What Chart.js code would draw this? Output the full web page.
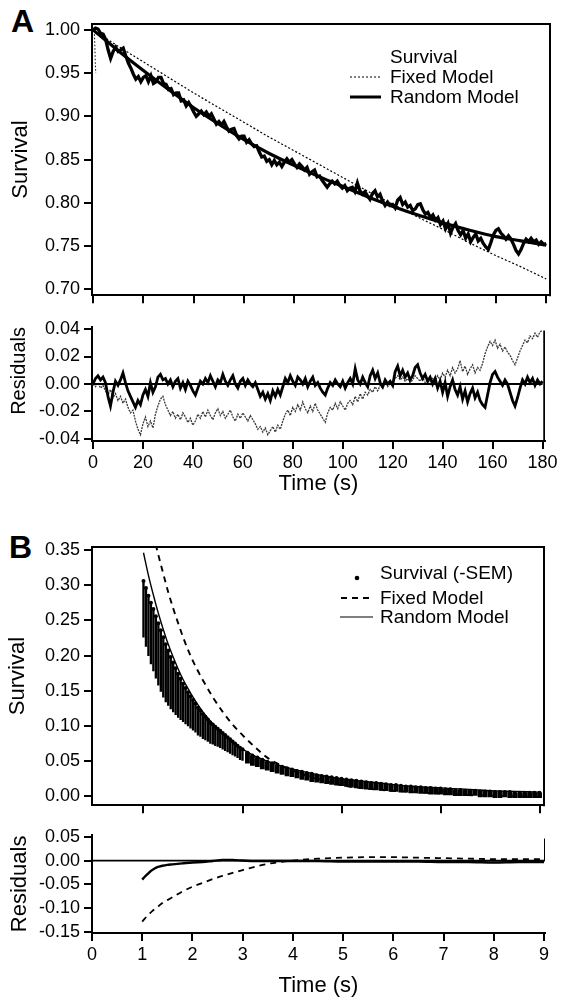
<!DOCTYPE html>
<html><head><meta charset="utf-8">
<script src="https://cdn.jsdelivr.net/npm/chart.js@4.4.1/dist/chart.umd.min.js"></script>
<style>
html,body{margin:0;padding:0;background:#fff;}
body{width:562px;height:1000px;position:relative;overflow:hidden;font-family:'Liberation Sans',Arial,Helvetica,sans-serif;color:#000;}
canvas{position:absolute;left:0;}
.lbl{position:absolute;font-weight:bold;font-size:32px;line-height:32px;}
.lt{position:absolute;font-size:19px;line-height:20px;white-space:nowrap;}
.key{position:absolute;}
</style></head><body>
<div class="lbl" style="left:11px;top:5px">A</div>
<div class="lbl" style="left:9px;top:531px">B</div>

<canvas id="cA" width="562" height="310" style="top:0px"></canvas>
<canvas id="cAR" width="562" height="190" style="top:310px"></canvas>
<canvas id="cB" width="562" height="320" style="top:500px"></canvas>
<canvas id="cBR" width="562" height="180" style="top:820px"></canvas>

<!-- legend A -->
<div class="lt" style="left:390px;top:47px">Survival</div>
<svg class="key" style="left:350px;top:72px" width="32" height="10"><line x1="0" y1="5" x2="31" y2="5" stroke="#000" stroke-width="1.2" stroke-dasharray="2,2"/></svg>
<div class="lt" style="left:390px;top:67px">Fixed Model</div>
<svg class="key" style="left:350px;top:92px" width="32" height="10"><line x1="0" y1="5" x2="31" y2="5" stroke="#000" stroke-width="3"/></svg>
<div class="lt" style="left:390px;top:87px">Random Model</div>

<!-- legend B -->
<svg class="key" style="left:352px;top:573px" width="10" height="10"><circle cx="5" cy="5" r="2.3" fill="#000"/></svg>
<div class="lt" style="left:380px;top:563px">Survival (-SEM)</div>
<svg class="key" style="left:341px;top:593px" width="34" height="10"><line x1="0" y1="5" x2="33" y2="5" stroke="#000" stroke-width="1.8" stroke-dasharray="6,5"/></svg>
<div class="lt" style="left:380px;top:588px">Fixed Model</div>
<svg class="key" style="left:340px;top:612px" width="34" height="10"><line x1="0" y1="5" x2="33" y2="5" stroke="#000" stroke-width="1.2"/></svg>
<div class="lt" style="left:380px;top:607px">Random Model</div>

<script>
// ---------------- DATA : panel A ----------------
const timeA = Array.from({length:181},(_,i)=>i); // 1 s sampling, 0..180 s
const survivalA = [
1.000,1.002,1.001,0.996,0.995,0.989,0.977,0.967,0.975,0.980,
0.975,0.977,0.979,0.970,0.962,0.956,0.949,0.943,0.946,0.940,
0.945,0.947,0.940,0.947,0.938,0.940,0.945,0.945,0.938,0.937,
0.931,0.932,0.925,0.927,0.927,0.918,0.919,0.912,0.916,0.911,
0.905,0.900,0.903,0.906,0.902,0.905,0.900,0.903,0.897,0.891,
0.894,0.890,0.894,0.888,0.883,0.885,0.886,0.878,0.874,0.877,
0.877,0.870,0.873,0.868,0.865,0.866,0.859,0.853,0.854,0.848,
0.850,0.844,0.849,0.844,0.847,0.842,0.847,0.851,0.847,0.850,
0.845,0.841,0.845,0.842,0.838,0.841,0.833,0.836,0.838,0.830,
0.831,0.826,0.822,0.818,0.822,0.825,0.822,0.825,0.820,0.817,
0.820,0.814,0.817,0.818,0.813,0.823,0.814,0.810,0.813,0.808,
0.804,0.811,0.814,0.807,0.810,0.802,0.797,0.801,0.797,0.798,
0.794,0.803,0.806,0.798,0.801,0.795,0.797,0.791,0.793,0.798,
0.799,0.792,0.787,0.789,0.783,0.786,0.780,0.783,0.775,0.779,
0.770,0.776,0.765,0.772,0.776,0.768,0.763,0.768,0.759,0.764,
0.755,0.760,0.764,0.756,0.759,0.753,0.749,0.746,0.754,0.763,
0.768,0.770,0.765,0.762,0.758,0.762,0.758,0.752,0.745,0.741,
0.746,0.753,0.758,0.755,0.759,0.755,0.757,0.752,0.755,0.752,
0.753];
const startSpikeT = [0.5,0.7,0.9,1.1];
const startSpikeV = [0.999,0.985,0.962,0.950];
const modelTimeA = [0,10,20,30,40,50,60,70,80,90,100,110,120,130,140,150,160,170,180];
const randomModelA = [1.000,0.976,0.953,0.931,0.910,0.891,0.873,0.857,0.843,0.830,0.818,0.806,0.795,0.785,0.776,0.768,0.761,0.756,0.751];
const fixedModelA  = [1.000,0.981,0.963,0.945,0.927,0.910,0.893,0.876,0.860,0.844,0.828,0.812,0.797,0.782,0.768,0.753,0.739,0.726,0.712];
const randomResA = [
0.000,0.004,0.006,0.003,0.005,0.001,-0.009,-0.016,-0.006,0.002,
-0.001,0.003,0.008,0.001,-0.005,-0.009,-0.013,-0.017,-0.012,-0.015,
-0.008,-0.004,-0.009,0.001,-0.006,-0.002,0.005,0.007,0.003,0.004,
0.000,0.003,-0.002,0.002,0.004,-0.003,0.001,-0.004,0.002,-0.001,
-0.005,-0.008,-0.003,0.002,0.000,0.004,0.001,0.006,0.002,-0.002,
0.003,0.001,0.007,0.002,-0.001,0.003,0.006,0.000,-0.003,0.002,
0.004,-0.001,0.003,0.000,-0.002,0.001,-0.004,-0.009,-0.006,-0.011,
-0.007,-0.012,-0.005,-0.009,-0.004,-0.008,-0.002,0.004,0.001,0.006,
0.002,-0.001,0.005,0.003,0.000,0.004,-0.002,0.002,0.005,-0.001,
0.001,-0.003,-0.006,-0.008,-0.003,0.001,-0.001,0.003,0.000,-0.002,
0.002,-0.003,0.001,0.004,0.000,0.011,0.003,0.000,0.005,0.001,
-0.002,0.006,0.010,0.004,0.008,0.001,-0.002,0.003,0.000,0.002,
-0.001,0.009,0.013,0.006,0.010,0.005,0.008,0.003,0.006,0.012,
0.014,0.008,0.004,0.007,0.002,0.005,0.000,0.004,-0.003,0.002,
-0.006,0.001,-0.009,-0.002,0.003,-0.004,-0.008,-0.002,-0.011,-0.005,
-0.013,-0.007,-0.003,-0.010,-0.006,-0.012,-0.015,-0.017,-0.008,0.001,
0.007,0.009,0.005,0.002,-0.001,0.003,0.000,-0.006,-0.012,-0.016,
-0.010,-0.003,0.003,0.000,0.005,0.001,0.004,-0.001,0.003,0.000,
0.002];
const fixedResA = [
0.000,-0.002,0.001,-0.003,-0.001,-0.005,-0.008,-0.004,-0.010,-0.007,
-0.012,-0.009,-0.014,-0.011,-0.017,-0.021,-0.019,-0.027,-0.033,-0.037,
-0.029,-0.024,-0.031,-0.027,-0.032,-0.022,-0.016,-0.011,-0.009,-0.015,
-0.019,-0.023,-0.020,-0.025,-0.022,-0.026,-0.021,-0.024,-0.028,-0.025,
-0.030,-0.027,-0.022,-0.025,-0.020,-0.024,-0.019,-0.023,-0.026,-0.021,
-0.018,-0.023,-0.020,-0.025,-0.022,-0.019,-0.024,-0.027,-0.022,-0.025,
-0.021,-0.024,-0.027,-0.023,-0.026,-0.029,-0.033,-0.031,-0.035,-0.032,
-0.037,-0.034,-0.031,-0.035,-0.030,-0.033,-0.027,-0.022,-0.019,-0.023,
-0.017,-0.020,-0.015,-0.019,-0.013,-0.018,-0.021,-0.016,-0.020,-0.014,
-0.019,-0.022,-0.025,-0.028,-0.021,-0.017,-0.019,-0.014,-0.018,-0.013,
-0.016,-0.019,-0.014,-0.012,-0.015,-0.009,-0.013,-0.007,-0.011,-0.006,
-0.008,-0.004,-0.006,-0.002,-0.005,-0.001,-0.003,0.001,-0.002,0.000,
0.002,0.004,0.006,0.003,0.005,0.002,0.004,0.001,0.003,0.006,
0.004,0.002,0.005,0.001,0.003,0.000,0.004,0.002,0.006,0.003,
0.008,0.005,0.010,0.006,0.012,0.008,0.011,0.017,0.009,0.013,
0.007,0.011,0.014,0.008,0.012,0.010,0.015,0.022,0.027,0.031,
0.028,0.032,0.026,0.029,0.024,0.027,0.023,0.021,0.017,0.014,
0.019,0.024,0.028,0.032,0.030,0.035,0.033,0.037,0.034,0.038,
0.039];
const resEndT_A = [180.8,180.8];
const resEndV_A = [0.039,-0.042];
const zeroT_A = [0,180];
const zeroV_A = [0,0];

// ---------------- DATA : panel B ----------------
const timeB = [1.00,1.05,1.10,1.15,1.20,1.25,1.30,1.35,1.40,1.45,1.50,1.55,1.60,1.65,1.70,1.75,1.80,1.85,1.90,1.95,
2.00,2.05,2.10,2.15,2.20,2.25,2.30,2.35,2.40,2.45,2.50,2.55,2.60,2.65,2.70,2.75,2.80,2.85,2.90,2.95,3.00,
3.1,3.2,3.3,3.4,3.5,3.6,3.7,3.8,3.9,4.0,4.1,4.2,4.3,4.4,4.5,4.6,4.7,4.8,4.9,5.0,
5.1,5.2,5.3,5.4,5.5,5.6,5.7,5.8,5.9,6.0,6.1,6.2,6.3,6.4,6.5,6.6,6.7,6.8,6.9,7.0,
7.1,7.2,7.3,7.4,7.5,7.6,7.7,7.8,7.9,8.0,8.1,8.2,8.3,8.4,8.5,8.6,8.7,8.8,8.9,9.0];
const survivalB = [0.306,0.296,0.285,0.275,0.266,0.256,0.246,0.236,0.226,0.216,0.207,0.198,0.190,0.182,0.174,0.167,0.160,0.154,0.148,0.142,
0.137,0.132,0.126,0.122,0.117,0.113,0.109,0.105,0.102,0.099,0.096,0.093,0.090,0.087,0.084,0.081,0.078,0.075,0.072,0.069,0.067,
0.062,0.058,0.055,0.052,0.049,0.047,0.044,0.042,0.040,0.038,0.036,0.035,0.033,0.032,0.030,0.029,0.028,0.027,0.026,0.025,
0.024,0.023,0.022,0.021,0.020,0.019,0.019,0.018,0.017,0.016,0.016,0.015,0.014,0.014,0.013,0.013,0.012,0.012,0.011,0.011,
0.010,0.010,0.009,0.009,0.008,0.008,0.008,0.007,0.007,0.007,0.006,0.006,0.006,0.006,0.005,0.005,0.005,0.005,0.005,0.005];
const survivalBminusSEM = [0.226,0.213,0.200,0.188,0.178,0.168,0.158,0.149,0.141,0.134,0.129,0.124,0.120,0.116,0.112,0.109,0.106,0.103,0.100,0.097,
0.094,0.091,0.087,0.085,0.082,0.080,0.078,0.075,0.074,0.072,0.071,0.069,0.067,0.065,0.063,0.061,0.059,0.057,0.055,0.052,0.051,
0.047,0.044,0.042,0.039,0.037,0.035,0.033,0.031,0.029,0.028,0.026,0.024,0.023,0.021,0.020,0.019,0.018,0.017,0.016,0.015,
0.014,0.013,0.012,0.011,0.010,0.010,0.009,0.009,0.008,0.007,0.007,0.006,0.006,0.005,0.005,0.004,0.004,0.003,0.003,0.003,
0.002,0.002,0.001,0.001,0.001,0.000,0.000,-0.001,-0.001,-0.001,-0.002,-0.002,-0.001,-0.002,-0.002,-0.002,-0.002,-0.002,-0.002,-0.002];
const modelTimeB = [1.0,1.1,1.2,1.3,1.4,1.5,1.6,1.7,1.8,1.9,2.0,2.2,2.4,2.6,2.8,3.0,3.25,3.5,3.75,4.0,4.5,5.0,5.5,6.0,6.5,7.0,7.5,8.0,8.5,9.0];
const randomModelB = [0.346,0.314,0.286,0.260,0.237,0.216,0.198,0.181,0.166,0.153,0.141,0.120,0.103,0.089,0.077,0.067,0.057,0.050,0.044,0.039,0.031,0.025,0.021,0.017,0.014,0.012,0.010,0.008,0.007,0.006];
const fixedModelB  = [0.434,0.401,0.371,0.343,0.316,0.290,0.267,0.246,0.226,0.208,0.192,0.165,0.141,0.120,0.102,0.087,0.070,0.055,0.045,0.037,0.025,0.016,0.011,0.008,0.006,0.004,0.002,0.001,0.000,-0.001];
const resTimeB = [1.0,1.05,1.1,1.15,1.2,1.3,1.4,1.5,1.6,1.7,1.8,2.0,2.2,2.4,2.6,2.8,3.0,3.25,3.5,3.75,4.0,4.5,5.0,5.5,6.0,6.5,7.0,7.5,8.0,8.5,9.0];
const randomResB = [-0.040,-0.034,-0.029,-0.024,-0.020,-0.014,-0.011,-0.009,-0.008,-0.007,-0.006,-0.004,-0.003,-0.001,0.001,0.001,0.000,-0.001,-0.001,-0.001,-0.001,-0.001,-0.002,-0.002,-0.002,-0.002,-0.003,-0.003,-0.004,-0.003,-0.003];
const fixedResB  = [-0.128,-0.122,-0.116,-0.111,-0.106,-0.098,-0.089,-0.083,-0.077,-0.071,-0.065,-0.055,-0.047,-0.039,-0.032,-0.026,-0.020,-0.013,-0.007,-0.003,0.000,0.004,0.006,0.007,0.007,0.006,0.005,0.004,0.003,0.003,0.003];
const resEndT_B = [9.02,9.02];
const resEndV_B = [0.046,0.000];
const zeroT_B = [0,9.02];
const zeroV_B = [0,0];

// ---------------- TICKS ----------------
const xTicksA = [0,20,40,60,80,100,120,140,160,180];
const yTicksA = [0.70,0.75,0.80,0.85,0.90,0.95,1.00];
const yTicksAR = [-0.04,-0.02,0.00,0.02,0.04];
const xTicksBTop = [0,2,4,6,8];
const xTicksBRes = [0,1,2,3,4,5,6,7,8,9];
const yTicksB = [0.00,0.05,0.10,0.15,0.20,0.25,0.30,0.35];
const yTicksBR = [-0.15,-0.10,-0.05,0.00,0.05];

// ---------------- HELPERS ----------------
const FONT = "'Liberation Sans', Arial, Helvetica, sans-serif";
Chart.defaults.font.family = FONT;
Chart.defaults.color = '#000';
const pts = (xs, ys) => ys.map((v,i)=>({x:xs[i], y:v}));
const gridOpt = {display:true, drawOnChartArea:false, drawTicks:true, tickLength:8, color:'#000', lineWidth:2};
const borderOpt = {display:true, color:'#000', width:2};

function xScale(min, max, ticks, labels, height, title, padBottom){
  return {type:'linear', min, max, offset:false,
    afterBuildTicks: s => { s.ticks = ticks.map(v=>({value:v})); },
    afterFit: s => { s.height = height; },
    grid: gridOpt, border: borderOpt,
    ticks: {display: labels, color:'#000', font:{size:18}, padding:3, maxRotation:0, autoSkip:false, callback: v => String(v)},
    title: title ? {display:true, text:title, color:'#000', font:{size:22}, padding:{top:0, bottom:padBottom}} : {display:false}
  };
}
function yScale(min, max, ticks, title, padTop, align, tsize){
  return {type:'linear', min, max,
    afterBuildTicks: s => { s.ticks = ticks.map(v=>({value:v})); },
    afterFit: s => { s.width = 92; },
    grid: gridOpt, border: borderOpt,
    ticks: {color:'#000', font:{size:18}, padding:4, autoSkip:false, callback: v => Number(v).toFixed(2)},
    title: {display:true, text:title, color:'#000', font:{size:tsize||22}, padding:{top:padTop, bottom:0}, align: align || 'center'}
  };
}
const framePlugin = {
  id:'frame',
  afterDatasetsDraw(chart, args, opts){
    if(!opts || !opts.on) return;
    const {ctx, chartArea:{left, top, right, bottom}} = chart;
    ctx.save(); ctx.strokeStyle='#000'; ctx.lineWidth=2;
    ctx.beginPath(); ctx.moveTo(left-1, top); ctx.lineTo(right, top); ctx.lineTo(right, bottom+1); ctx.stroke();
    ctx.restore();
  }
};
function line(data, width, dash, extra){
  return Object.assign({type:'line', data, borderColor:'#000', borderWidth:width, borderDash:dash||[], pointRadius:0, fill:false, tension:0}, extra||{});
}
function make(id, datasets, scales, pad, frame){
  return new Chart(document.getElementById(id), {
    type:'line',
    data:{datasets},
    options:{responsive:false, animation:false, devicePixelRatio:1,
      layout:{padding:pad},
      plugins:{legend:{display:false}, tooltip:{enabled:false}, frame:{on:frame}},
      scales},
    plugins:[framePlugin]
  });
}
const semBars = (from, to) => timeB.slice(from, to).map((t,k)=>({x:t, y:[survivalBminusSEM[from+k], survivalB[from+k]]}));

// ---------------- PANEL A (survival) ----------------
make('cA', [
  line(pts(timeA, survivalA), 3.3, [], {order:1}),
  line(pts(startSpikeT, startSpikeV), 1, [1.5,2], {order:2}),
  line(pts(modelTimeA, randomModelA), 3.2, [], {order:3, cubicInterpolationMode:'monotone'}),
  line(pts(modelTimeA, fixedModelA), 1.2, [2,2], {order:0})
], {
  x: xScale(-0.4, 181.5, xTicksA, false, 10),
  y: yScale(0.6932, 1.0068, yTicksA, 'Survival', 8)
}, {top:24, right:12, left:0, bottom:0}, true);

// ---------------- PANEL A (residuals) ----------------
make('cAR', [
  line(pts(timeA, randomResA), 2.8, [], {order:0}),
  line(pts(timeA, fixedResA), 1.3, [2,1], {order:2, borderColor:'#3a3a3a'}),
  line(pts(zeroT_A, zeroV_A), 2, [], {order:1}),
  line(pts(resEndT_A, resEndV_A), 2.5, [], {order:0})
], {
  x: xScale(-0.4, 181, xTicksA, true, 59, 'Time (s)', 3),
  y: yScale(-0.0415, 0.0415, yTicksAR, 'Residuals', 7, 'end', 20)
}, {top:17, right:17, left:0, bottom:0}, false);

// ---------------- PANEL B (survival) ----------------
make('cB', [
  line(pts(modelTimeB, randomModelB), 1.4, [], {order:0, cubicInterpolationMode:'monotone'}),
  line(pts(modelTimeB, fixedModelB), 1.9, [6,5], {order:1, cubicInterpolationMode:'monotone'}),
  {type:'scatter', data: pts(timeB, survivalB), pointRadius:2, pointBackgroundColor:'#000', pointBorderWidth:0, showLine:false, order:2},
  {type:'bar', data: semBars(0, 41), backgroundColor:'#000', borderWidth:0, barThickness:1.7, grouped:false, order:3},
  {type:'bar', data: semBars(41, timeB.length), backgroundColor:'#000', borderWidth:0, barThickness:4.2, grouped:false, order:4}
], {
  x: xScale(-0.04, 9.09, xTicksBTop, false, 11),
  y: yScale(-0.0126, 0.3542, yTicksB, 'Survival', 5)
}, {top:47, right:18, left:0, bottom:0}, true);

// ---------------- PANEL B (residuals) ----------------
make('cBR', [
  line(pts(resTimeB, randomResB), 2.4, [], {order:0, cubicInterpolationMode:'monotone'}),
  line(pts(resTimeB, fixedResB), 1.8, [6,5], {order:1, cubicInterpolationMode:'monotone'}),
  line(pts(zeroT_B, zeroV_B), 1.8, [], {order:2}),
  line(pts(resEndT_B, resEndV_B), 2, [], {order:0})
], {
  x: xScale(0, 9.02, xTicksBRes, true, 67, 'Time (s)', 1),
  y: yScale(-0.152, 0.054, yTicksBR, 'Residuals', 7)
}, {top:13, right:17, left:0, bottom:0}, false);
</script>
</body></html>
